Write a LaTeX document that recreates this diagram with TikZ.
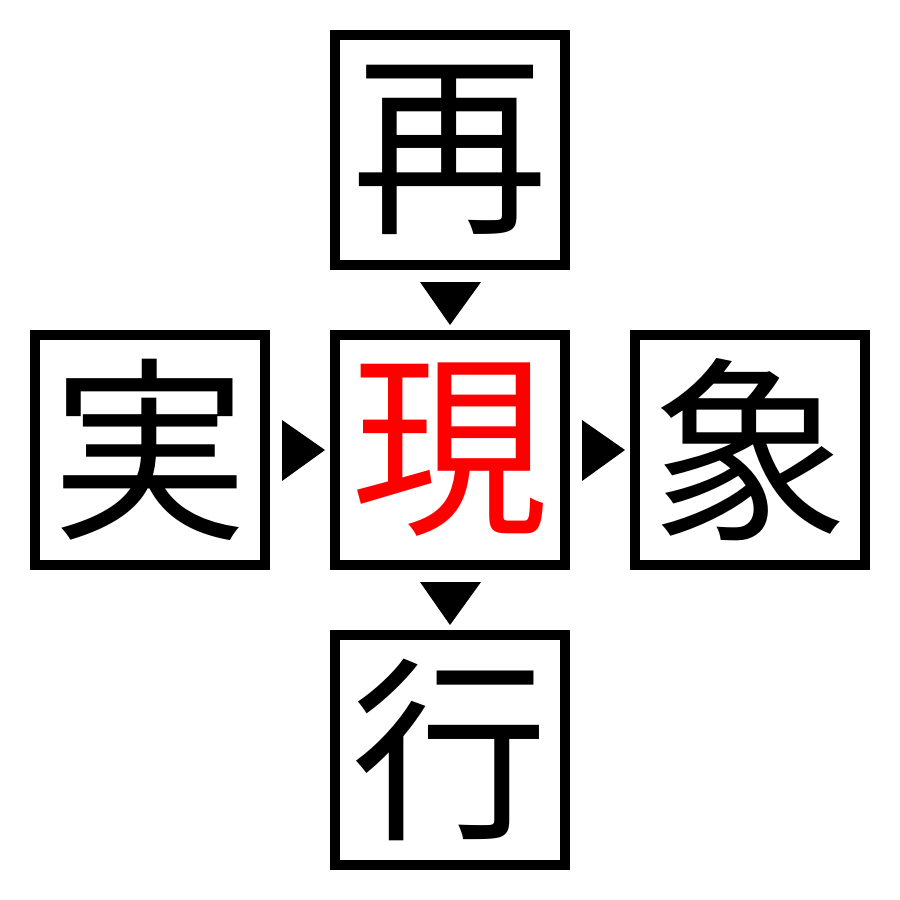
\documentclass[tikz,border=0pt]{standalone}
\usepackage{fontspec}
\newfontfamily\cjk{Noto Sans CJK JP}
\begin{document}
\begin{tikzpicture}[x=0.3mm,y=-0.3mm,
  cbox/.style={draw=black,line width=3mm,minimum size=69mm,inner sep=0pt,font=\cjk\fontsize{168}{168}\selectfont},
  tri/.style={fill=black,draw=none}]
\useasboundingbox (0,0) rectangle (900,900);
\node[cbox] (top) at (450,150) {再};
\node[cbox] (left) at (150,450) {実};
\node[cbox,text=red] (mid) at (450,450) {現};
\node[cbox] (right) at (750,450) {象};
\node[cbox] (bot) at (450,750) {行};
% arrowheads (anchors lie on the outer edge of the frames)
\fill[tri] ([shift={(-30,-48)}]mid.north) -- ([shift={(31,-48)}]mid.north) -- ([shift={(0,-5)}]mid.north) -- cycle;
\fill[tri] ([shift={(-30,12)}]mid.south) -- ([shift={(31,12)}]mid.south) -- ([shift={(0,55)}]mid.south) -- cycle;
\fill[tri] ([shift={(-48,-30)}]mid.west) -- ([shift={(-48,31)}]mid.west) -- ([shift={(-5,0)}]mid.west) -- cycle;
\fill[tri] ([shift={(12,-30)}]mid.east) -- ([shift={(12,31)}]mid.east) -- ([shift={(55,0)}]mid.east) -- cycle;
\end{tikzpicture}
\end{document}
